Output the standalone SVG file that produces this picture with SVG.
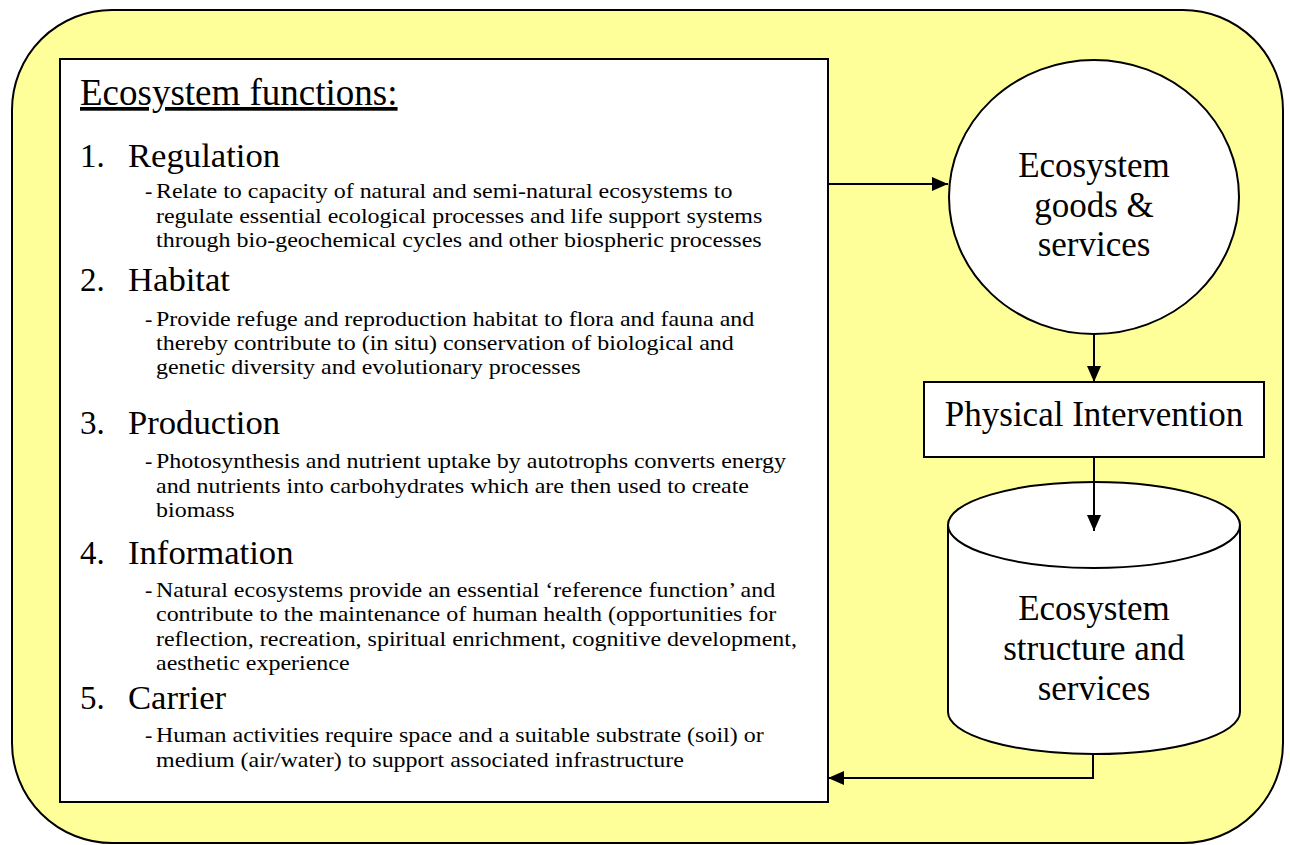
<svg xmlns="http://www.w3.org/2000/svg" width="1290" height="845" viewBox="0 0 1290 845">
<defs>
<marker id="ah" markerUnits="userSpaceOnUse" markerWidth="16" markerHeight="16" viewBox="0 0 16 16" refX="16" refY="8" orient="auto">
<path d="M0,1 L16,8 L0,15 Z" fill="#000"/>
</marker>
<style>
.t{font-family:"Liberation Serif","Times New Roman",serif;fill:#000}
.title{font-size:37px;text-decoration:underline}
.h{font-size:33px}
.s{font-size:22px}
.big{font-size:35px;text-anchor:middle}
.sh{fill:#fff;stroke:#000;stroke-width:2}
.c{fill:none;stroke:#000;stroke-width:2}
</style>
</defs>
<rect x="12" y="10" width="1271" height="833" rx="100" ry="100" fill="#FFFF99" stroke="#000" stroke-width="2"/>
<g id="functions">
<rect class="sh" x="60" y="59" width="768" height="743"/>
<text class="t title" x="80" y="105">Ecosystem functions:</text>
<g class="t h">
<text x="80" y="167">1.</text>
<text x="80" y="291">2.</text>
<text x="80" y="434">3.</text>
<text x="80" y="564">4.</text>
<text x="80" y="709">5.</text>
</g>
<g class="t h" transform="translate(128,0) scale(1.05,1)">
<text x="0" y="167">Regulation</text>
<text x="0" y="291">Habitat</text>
<text x="0" y="434">Production</text>
<text x="0" y="564">Information</text>
<text x="0" y="709">Carrier</text>
</g>
<g class="t s">
<text x="145" y="198">-</text>
<text x="145" y="326">-</text>
<text x="145" y="468">-</text>
<text x="145" y="597">-</text>
<text x="145" y="742">-</text>
</g>
<g class="t s" transform="translate(156,0) scale(1.09,1)">
<text x="0" y="198">Relate to capacity of natural and semi-natural ecosystems to</text>
<text x="0" y="223">regulate essential ecological processes and life support systems</text>
<text x="0" y="247">through bio-geochemical cycles and other biospheric processes</text>
<text x="0" y="326">Provide refuge and reproduction habitat to flora and fauna and</text>
<text x="0" y="350">thereby contribute to (in situ) conservation of biological and</text>
<text x="0" y="374">genetic diversity and evolutionary processes</text>
<text x="0" y="468">Photosynthesis and nutrient uptake by autotrophs converts energy</text>
<text x="0" y="493">and nutrients into carbohydrates which are then used to create</text>
<text x="0" y="517">biomass</text>
<text x="0" y="597">Natural ecosystems provide an essential ‘reference function’ and</text>
<text x="0" y="621">contribute to the maintenance of human health (opportunities for</text>
<text x="0" y="646">reflection, recreation, spiritual enrichment, cognitive development,</text>
<text x="0" y="670">aesthetic experience</text>
<text x="0" y="742">Human activities require space and a suitable substrate (soil) or</text>
<text x="0" y="767">medium (air/water) to support associated infrastructure</text>
</g>
</g>
<g id="goods">
<ellipse class="sh" cx="1094" cy="197" rx="145" ry="137"/>
<text class="t big" x="1094" y="177">Ecosystem</text>
<text class="t big" x="1094" y="217">goods &amp;</text>
<text class="t big" x="1094" y="256">services</text>
</g>
<g id="intervention">
<rect class="sh" x="924" y="382" width="340" height="75"/>
<text class="t big" x="1094" y="426">Physical Intervention</text>
</g>
<g id="structure">
<path class="sh" d="M948,525 L948,712 A146,42 0 0 0 1240,712 L1240,525 A146,43 0 0 0 948,525 Z"/>
<path class="c" d="M948,525 A146,43 0 0 0 1240,525"/>
<text class="t big" x="1094" y="620">Ecosystem</text>
<text class="t big" x="1094" y="660">structure and</text>
<text class="t big" x="1094" y="700">services</text>
</g>
<g id="connectors">
<path class="c" d="M828,184 L948,184" marker-end="url(#ah)"/>
<path class="c" d="M1094,334 L1094,382" marker-end="url(#ah)"/>
<path class="c" d="M1094,457 L1094,531" marker-end="url(#ah)"/>
<path class="c" d="M1093,754 L1093,778 L828,778" marker-end="url(#ah)"/>
</g>
</svg>
